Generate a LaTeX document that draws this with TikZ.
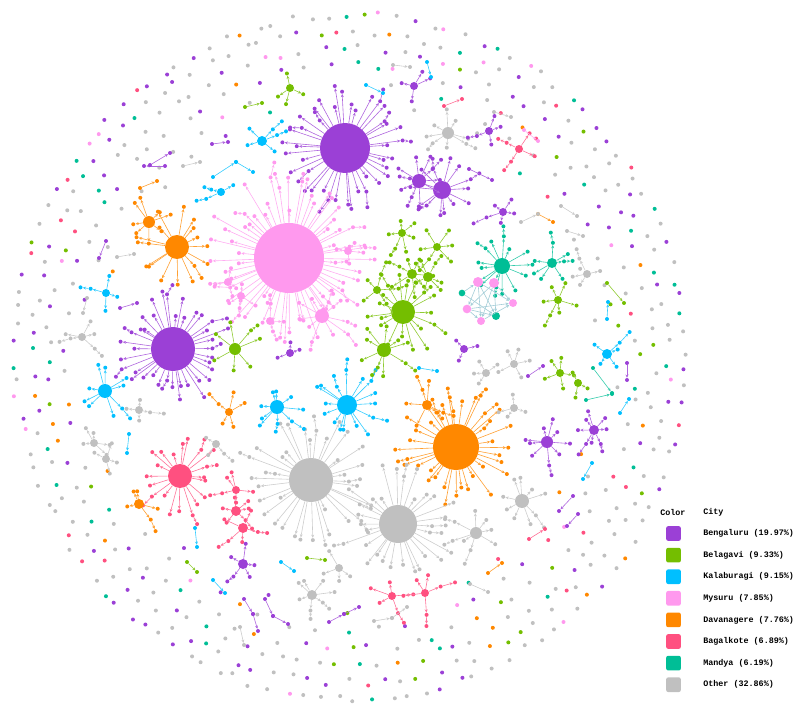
\documentclass[tikz,border=0pt]{standalone}
\usepackage{fontspec}
\setmonofont{Liberation Mono}
\usetikzlibrary{calc}
\usetikzlibrary{arrows.meta}

\definecolor{bengc}{RGB}{155,64,214}
\definecolor{belc}{RGB}{116,190,0}
\definecolor{kalc}{RGB}{0,191,255}
\definecolor{mysc}{RGB}{255,153,238}
\definecolor{davc}{RGB}{255,136,0}
\definecolor{bagc}{RGB}{255,80,128}
\definecolor{manc}{RGB}{0,190,150}
\definecolor{othc}{RGB}{192,192,192}
\definecolor{meshc}{RGB}{140,192,205}

% colours of the loose dots
\colorlet{dc0}{othc}\colorlet{dc1}{othc}\colorlet{dc2}{othc}\colorlet{dc3}{othc}
\colorlet{dc4}{othc}\colorlet{dc5}{othc}\colorlet{dc6}{othc}\colorlet{dc7}{othc}
\colorlet{dc8}{othc}\colorlet{dc9}{othc}
\colorlet{dc10}{bengc}\colorlet{dc11}{bengc}\colorlet{dc12}{bengc}\colorlet{dc13}{bengc}
\colorlet{dc14}{manc}\colorlet{dc15}{manc}\colorlet{dc16}{mysc}
\colorlet{dc17}{belc}\colorlet{dc18}{davc}\colorlet{dc19}{bagc}

\tikzset{
  hubnode/.style={circle, inner sep=0pt, draw=none},
  leaf/.style={circle, inner sep=0pt, minimum size=3pt, draw=none},
  spoke/.style={line width=0.45pt, -{Stealth[length=2.4pt,width=2.2pt]}},
  ringdot/.style={circle, inner sep=0pt, minimum size=3pt, draw=none},
  swatch/.style={rectangle, rounded corners=1.5pt, minimum size=11pt, inner sep=0pt, draw=none},
  legtext/.style={anchor=west, inner sep=0pt, font=\ttfamily\bfseries\fontsize{6.3}{7}\selectfont},
  declare function={far(\u,\v,\w)=veclen((\px-\u)/100,(\py-\v)/100)>\w/100;}
}

% hub with its leaves: name, x, y, radius, colour, leaves, min length, max length
\newcommand\hubstar[8]{%
  \node[hubnode, fill=#5, minimum size={1.5*#4}] (#1) at (#2,#3) {};
  \foreach \k in {1,...,#6}{%
    \pgfmathsetmacro\ang{360/#6*(\k+0.45*rand)}%
    \pgfmathsetmacro\len{#4+#7+(#8-#7)*rnd}%
    \node[leaf, fill=#5] (#1-\k) at ($(#1)+(\ang:\len)$) {};
    \draw[spoke, draw=#5!80] (#1) -- (#1-\k);
    \pgfmathtruncatemacro\tw{rnd<0.22}%
    \ifnum\tw=1
      \pgfmathsetmacro\lenb{\len+7+8*rnd}%
      \pgfmathsetmacro\angb{\ang+6*rand}%
      \node[leaf, fill=#5] (#1-\k-b) at ($(#1)+(\angb:\lenb)$) {};
      \draw[spoke, draw=#5!80] (#1-\k) -- (#1-\k-b);
    \fi
  }%
}

\begin{document}
\begin{tikzpicture}[x=0.75pt, y=-0.75pt]
\useasboundingbox (0,0) rectangle (808,710);
\pgfmathsetseed{11}

% loose dots round the edge
\foreach \rf/\cnt [count=\q] in {1.0/120, 0.952/108, 0.905/96, 0.855/80, 0.80/60, 0.745/36}{
  \foreach \j in {1,...,\cnt}{
    \pgfmathsetmacro\ang{360/\cnt*(\j+0.3*rand)+17*\q}
    \pgfmathsetmacro\rr{\rf+0.012*rand}
    \pgfmathsetmacro\px{350+335*\rr*cos(\ang)}
    \pgfmathsetmacro\py{357+342*\rr*sin(\ang)}
    \pgfmathtruncatemacro\ci{floor(19.99*rnd)}
    \pgfmathtruncatemacro\ok{far(345,148,75)*far(177,247,50)*far(149,222,30)*far(173,349,68)*far(105,391,35)*far(180,476,50)*far(82,337,22)*far(94,443,22)*far(262,141,25)*far(290,88,20)*far(448,133,28)*far(414,86,20)*far(139,504,25)*far(106,293,22)*far(607,354,22)*far(594,430,25)*far(547,442,28)*far(522,501,30)*far(392,596,28)*far(425,593,28)*far(312,595,25)*far(243,564,25)}
    \ifnum\ok=1
      \node[ringdot, fill=dc\ci] (rd\q-\j) at (\px,\py) {};
    \fi
  }
}

% large hubs
\hubstar{bengA}{345}{148}{25}{bengc}{40}{10}{38}
\hubstar{mysA}{289}{258}{35}{mysc}{62}{10}{52}
\hubstar{bengB}{173}{349}{22}{bengc}{38}{10}{38}
\hubstar{davA}{456}{447}{23}{davc}{36}{10}{38}
\hubstar{othA}{311}{480}{22}{othc}{36}{10}{45}
\hubstar{othB}{398}{524}{19}{othc}{30}{10}{42}
\hubstar{davB}{177}{247}{12}{davc}{16}{10}{32}
\hubstar{bagA}{180}{476}{12}{bagc}{20}{10}{32}
\hubstar{belA}{403}{312}{12}{belc}{18}{10}{32}
\hubstar{kalA}{347}{405}{10}{kalc}{16}{8}{28}

% middle hubs
\hubstar{davC}{149}{222}{6}{davc}{8}{8}{20}
\hubstar{belB}{384}{350}{7}{belc}{9}{8}{22}
\hubstar{belC}{412}{274}{5}{belc}{7}{8}{20}
\hubstar{belD}{428}{277}{5}{belc}{7}{8}{20}
\hubstar{belE}{402}{233}{4}{belc}{6}{8}{20}
\hubstar{belF}{437}{247}{4}{belc}{6}{8}{18}
\hubstar{belG}{377}{290}{4}{belc}{5}{8}{18}
\hubstar{kalB}{277}{407}{7}{kalc}{9}{8}{20}
\hubstar{kalC}{105}{391}{7}{kalc}{9}{8}{20}
\hubstar{manA}{502}{266}{8}{manc}{13}{8}{24}
\hubstar{manB}{552}{263}{5}{manc}{7}{7}{16}
\hubstar{bengC}{442}{190}{9}{bengc}{14}{8}{26}
\hubstar{bengD}{419}{181}{7}{bengc}{10}{8}{20}
\hubstar{othC}{448}{133}{6}{othc}{8}{8}{20}
\hubstar{belH}{235}{349}{6}{belc}{7}{8}{22}
\hubstar{mysB}{322}{316}{7}{mysc}{10}{8}{26}
\hubstar{davD}{427}{405}{5}{davc}{6}{8}{20}
\hubstar{davE}{229}{412}{4}{davc}{5}{8}{18}
\hubstar{othD}{522}{501}{7}{othc}{9}{8}{20}
\hubstar{othE}{476}{533}{6}{othc}{8}{8}{20}
\hubstar{bengE}{547}{442}{6}{bengc}{9}{7}{18}
\hubstar{bengF}{594}{430}{5}{bengc}{8}{7}{16}

% small hubs
\hubstar{bagB}{392}{596}{4}{bagc}{5}{8}{20}
\hubstar{bagC}{425}{593}{4}{bagc}{5}{8}{20}
\hubstar{othF}{312}{595}{5}{othc}{7}{7}{18}
\hubstar{kalD}{262}{141}{5}{kalc}{5}{8}{18}
\hubstar{belI}{290}{88}{4}{belc}{4}{7}{14}
\hubstar{bagD}{519}{149}{4}{bagc}{4}{8}{16}
\hubstar{belJ}{558}{300}{4}{belc}{6}{7}{16}
\hubstar{bengG}{503}{212}{4}{bengc}{5}{6}{14}
\hubstar{bagE}{236}{511}{5}{bagc}{6}{6}{16}
\hubstar{bagF}{243}{528}{5}{bagc}{5}{6}{16}
\hubstar{bagG}{236}{490}{4}{bagc}{5}{6}{16}
\hubstar{kalE}{607}{354}{5}{kalc}{5}{6}{14}
\hubstar{othG}{82}{337}{4}{othc}{5}{6}{14}
\hubstar{othH}{94}{443}{4}{othc}{5}{6}{14}
\hubstar{othI}{106}{459}{4}{othc}{4}{6}{14}
\hubstar{davF}{139}{504}{5}{davc}{5}{7}{16}
\hubstar{bengH}{243}{564}{5}{bengc}{5}{6}{16}
\hubstar{othJ}{339}{568}{4}{othc}{4}{6}{16}
\hubstar{bengI}{414}{86}{4}{bengc}{4}{6}{14}
\hubstar{bengJ}{489}{131}{4}{bengc}{4}{6}{14}
\hubstar{kalF}{106}{293}{4}{kalc}{4}{6}{14}
\hubstar{othK}{587}{274}{4}{othc}{4}{6}{14}
\hubstar{belK}{560}{373}{4}{belc}{5}{6}{14}
\hubstar{belL}{578}{383}{4}{belc}{3}{6}{12}
\hubstar{othL}{514}{364}{4}{othc}{5}{6}{16}
\hubstar{othM}{486}{373}{4}{othc}{4}{6}{14}
\hubstar{othN}{514}{408}{4}{othc}{4}{6}{14}
\hubstar{othO}{216}{444}{4}{othc}{3}{6}{14}
\hubstar{othP}{139}{410}{4}{othc}{4}{6}{14}
\hubstar{bengK}{464}{349}{4}{bengc}{3}{6}{12}
\hubstar{bengL}{290}{353}{4}{bengc}{3}{6}{12}
\hubstar{kalG}{221}{192}{4}{kalc}{3}{6}{14}
\hubstar{mysC}{228}{282}{4}{mysc}{4}{6}{14}
\hubstar{mysD}{241}{296}{4}{mysc}{4}{6}{14}
\hubstar{mysE}{348}{251}{4}{mysc}{4}{6}{14}
\hubstar{mysF}{270}{321}{4}{mysc}{3}{6}{14}

% pairs
\foreach \ax/\ay/\bx/\by/\col [count=\i] in {393/65/410/67/othc, 427/62/431/77/kalc,
  366/85/383/93/kalc, 444/106/462/99/bagc, 494/112/511/117/othc, 524/130/538/141/mysc,
  469/169/492/180/bengc, 561/206/577/216/othc, 567/231/583/236/othc, 607/283/624/303/belc,
  607/319/608/302/kalc, 627/363/627/380/bengc, 593/368/612/393/manc, 528/376/543/366/bengc,
  419/368/437/371/kalc, 586/400/612/394/manc, 620/413/629/399/kalc, 592/463/583/479/kalc,
  573/496/559/511/bengc, 578/514/567/526/bengc, 529/539/545/529/bagc, 488/573/502/563/davc,
  470/584/488/592/othc, 307/558/325/560/belc, 281/562/294/571/kalc, 213/580/225/593/kalc,
  244/599/253/614/bengc, 265/599/273/616/bengc, 329/622/344/614/bengc, 374/621/392/618/othc,
  240/627/244/645/othc, 195/528/197/547/kalc, 187/562/197/572/belc, 129/434/127/453/kalc,
  212/144/228/142/bengc, 165/166/144/166/bengc, 183/166/200/162/othc, 213/177/236/162/kalc,
  140/188/157/181/davc, 106/241/99/258/bengc, 117/257/134/254/othc, 120/308/137/303/bengc,
  87/298/83/313/othc, 245/107/262/103/belc, 538/214/553/222/davc, 521/222/538/214/othc,
  253/614/258/631/bengc, 273/616/288/624/bengc, 344/614/359/607/bengc, 392/618/407/607/othc,
  236/162/253/172/kalc, 150/165/170/153/bengc}{
  \node[leaf, fill=\col] (pa\i) at (\ax,\ay) {};
  \node[leaf, fill=\col] (pb\i) at (\bx,\by) {};
  \draw[spoke, draw=\col!80] (pa\i) -- (pb\i);
}

% mesh of Mysuru and Mandya nodes
\node[hubnode, fill=mysc, minimum size=7.5pt] (mA) at (478,282) {};
\node[hubnode, fill=mysc, minimum size=7.5pt] (mB) at (494,283) {};
\node[hubnode, fill=mysc, minimum size=6pt] (mC) at (513,303) {};
\node[hubnode, fill=mysc, minimum size=6.5pt] (mD) at (467,309) {};
\node[hubnode, fill=mysc, minimum size=6pt] (mE) at (481,321) {};
\node[hubnode, fill=manc, minimum size=5pt] (mF) at (462,293) {};
\node[hubnode, fill=manc, minimum size=6pt] (mG) at (496,316) {};
\foreach \a/\b in {mA/mC, mA/mE, mA/mG, mB/mD, mB/mE, mB/mC, mD/mC, mD/mG, mF/mA,
  mF/mG, mE/mC, mB/mG, mD/mE, mA/mD}{
  \draw[spoke, draw=meshc!80] (\a) -- (\b);
}
\draw[spoke, draw=manc!80] (manA) -- (mA);
\draw[spoke, draw=manc!80] (manA) -- (mB);

% legend
\node[legtext] (colhead) at (660,512) {Color};
\node[legtext] (cityhead) at (703,512) {City};
\foreach \col/\txt [count=\i] in {bengc/Bengaluru (19.97\%), belc/Belagavi (9.33\%),
  kalc/Kalaburagi (9.15\%), mysc/Mysuru (7.85\%), davc/Davanagere (7.76\%),
  bagc/Bagalkote (6.89\%), manc/Mandya (6.19\%), othc/Other (32.86\%)}{
  \pgfmathsetmacro\yy{533.5+21.6*(\i-1)}
  \node[swatch, fill=\col] (sw\i) at (673.5,\yy) {};
  \node[legtext] (lt\i) at (703,\yy) {\txt};
}
\end{tikzpicture}
\end{document}
